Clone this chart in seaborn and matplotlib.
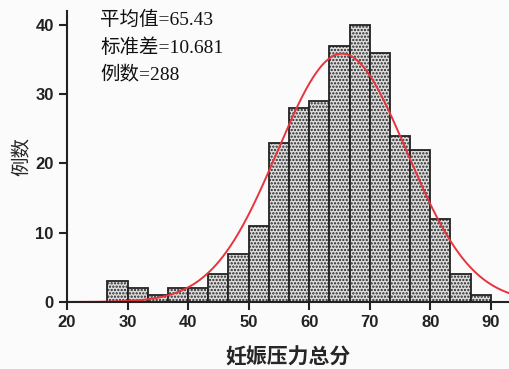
import numpy as np
import pandas as pd
import matplotlib
matplotlib.use("Agg")
import matplotlib.pyplot as plt
import seaborn as sns

# Histogram data (bin width 10/3)
bin_edges = [26.667, 30, 33.333, 36.667, 40, 43.333, 46.667, 50, 53.333, 56.667,
             60, 63.333, 66.667, 70, 73.333, 76.667, 80, 83.333, 86.667, 90]
counts = [3, 2, 1, 2, 2, 4, 7, 11, 23, 28, 29, 37, 40, 36, 24, 22, 12, 4, 1]
mean_val = 65.43
sd_val = 10.681
n_cases = 288
x_ticks = [20, 30, 40, 50, 60, 70, 80, 90]
y_ticks = [0, 10, 20, 30, 40]

sns.set_style("ticks")
plt.rcParams["font.family"] = ["Liberation Sans", "Noto Sans CJK SC", "DejaVu Sans"]
plt.rcParams["hatch.color"] = "#7a7a7a"
plt.rcParams["hatch.linewidth"] = 1.1

centers = [(a + b) / 2 for a, b in zip(bin_edges[:-1], bin_edges[1:])]
df = pd.DataFrame({"score": centers, "n": counts})

fig = plt.figure(figsize=(5.09, 3.69), dpi=100, facecolor="#fbfbfb")
ax = fig.add_axes([0.1316, 0.1816, 0.8684, 0.7884])
ax.set_facecolor("#fbfbfb")

sns.histplot(data=df, x="score", weights="n", bins=bin_edges, ax=ax,
             color="#dedede", edgecolor="#222222", linewidth=1.3, alpha=1)
for p in ax.patches:
    p.set_hatch(".....")

# normal curve scaled to counts
width = bin_edges[1] - bin_edges[0]
xs = np.linspace(20, 93, 400)
ys = n_cases * width / (sd_val * np.sqrt(2 * np.pi)) * np.exp(-0.5 * ((xs - mean_val) / sd_val) ** 2)
ax.plot(xs, ys, color="#e8343c", lw=1.4)

ax.set_xlim(20, 93)
ax.set_ylim(0, 42)
ax.set_xticks(x_ticks)
ax.set_yticks(y_ticks)
ax.tick_params(axis="both", labelsize=12, width=1.5, length=6, color="#222222")
for lab in ax.get_xticklabels() + ax.get_yticklabels():
    lab.set_fontweight("bold")
    lab.set_color("#222222")
sns.despine(ax=ax)
for s in ["left", "bottom"]:
    ax.spines[s].set_linewidth(1.5)
    ax.spines[s].set_color("#222222")

ax.set_ylabel("例数", fontsize=14, family=["Noto Sans CJK SC"], labelpad=2)
ax.set_xlabel("妊娠压力总分", fontsize=15, fontweight="bold", family=["Noto Sans CJK SC"], labelpad=12)

txt_family = ["Liberation Serif", "Noto Sans CJK SC"]
stats = [f"平均值={mean_val:.2f}", f"标准差={sd_val:.3f}", f"例数={n_cases}"]
for i, s in enumerate(stats):
    fig.text(100 / 509, 1 - (20 + 27.5 * i) / 369, s, fontsize=14, family=txt_family,
             va="center", ha="left", color="#111111")

fig.savefig("out.png", dpi=100, facecolor=fig.get_facecolor())
